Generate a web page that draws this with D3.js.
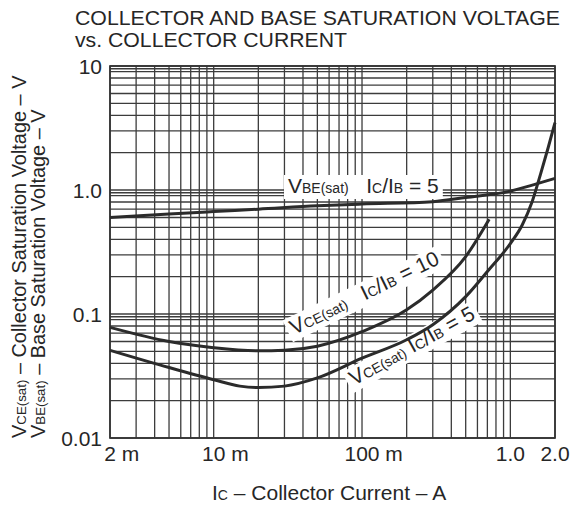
<!DOCTYPE html>
<html><head><meta charset="utf-8">
<script src="https://cdn.jsdelivr.net/npm/d3@7"></script>
<style>
html,body{margin:0;padding:0;background:#fff;}
text{font-family:"Liberation Sans",Arial,Helvetica,sans-serif;fill:#262626;white-space:pre;}
</style></head>
<body>
<svg id="c" width="587" height="508"></svg>
<script>
// ---- data ----
const xTickValues = [0.002, 0.01, 0.1, 1, 2];
const xTickNums   = ["2", "10", "100", "1.0", "2.0"];
const xTickUnits  = [" m", " m", " m", "", ""];
const yTickValues = [0.01, 0.1, 1, 10];
const yTickLabels = ["0.01", "0.1", "1.0", "10"];

const vbeCurrent = [0.002, 0.005, 0.01, 0.02, 0.05, 0.1, 0.3, 0.5, 1.0, 1.5, 2.0];
const vbeVoltage = [0.60, 0.64, 0.67, 0.70, 0.745, 0.77, 0.805, 0.87, 0.98, 1.12, 1.24];

const vce10Current = [0.002, 0.005, 0.01, 0.02, 0.03, 0.05, 0.1, 0.2, 0.3, 0.5, 0.72];
const vce10Voltage = [0.078, 0.060, 0.0535, 0.0505, 0.051, 0.055, 0.072, 0.108, 0.156, 0.29, 0.58];

const vce5Current = [0.002, 0.005, 0.01, 0.015, 0.02, 0.03, 0.05, 0.1, 0.2, 0.3, 0.5, 0.7, 1.0, 1.2, 1.4, 1.6, 1.8, 2.0];
const vce5Voltage = [0.051, 0.037, 0.0295, 0.0262, 0.0255, 0.0262, 0.0305, 0.044, 0.062, 0.082, 0.138, 0.22, 0.37, 0.52, 0.80, 1.35, 2.2, 3.5];

const gridMultipliers = [1, 2, 3, 4, 5, 6, 7, 8, 9];

// ---- drawing ----
const svg = d3.select("#c");
const x = d3.scaleLog().domain([0.002, 2]).range([110, 555]);
const y = d3.scaleLog().domain([0.01, 10]).range([438, 66]);
const ink = "#2b2b2b";

// title
const title = svg.append("g").attr("font-size", 20);
title.append("text").attr("x", 75).attr("y", 25).attr("textLength", 485).attr("lengthAdjust", "spacingAndGlyphs")
  .text("COLLECTOR AND BASE SATURATION VOLTAGE");
title.append("text").attr("x", 75).attr("y", 47).attr("textLength", 272).attr("lengthAdjust", "spacingAndGlyphs")
  .text("vs. COLLECTOR CURRENT");

// grid
const grid = svg.append("g").attr("stroke", "#3c3c3c").attr("stroke-width", 1.3);
const xs = [];
[0.001, 0.01, 0.1, 1].forEach(d => gridMultipliers.forEach(m => { const v = d * m; if (v >= 0.002 - 1e-9 && v <= 2 + 1e-9) xs.push(v); }));
const ys = [];
[0.01, 0.1, 1].forEach(d => gridMultipliers.forEach(m => ys.push(d * m)));
ys.push(10, 0.095, 0.95, 9.5);
grid.selectAll("line.v").data(xs).join("line")
  .attr("x1", d => x(d)).attr("x2", d => x(d)).attr("y1", y(10)).attr("y2", y(0.01));
grid.selectAll("line.h").data(ys).join("line")
  .attr("x1", x(0.002)).attr("x2", x(2)).attr("y1", d => y(d)).attr("y2", d => y(d));
svg.append("rect").attr("x", x(0.002)).attr("y", y(10)).attr("width", x(2) - x(0.002)).attr("height", y(0.01) - y(10))
  .attr("fill", "none").attr("stroke", "#333").attr("stroke-width", 1.7);

// ticks
const ax = svg.append("g").attr("font-size", 21);
xTickValues.forEach((v, i) => {
  const t = ax.append("text").attr("y", 461);
  const num = t.append("tspan").text(xTickNums[i]);
  t.append("tspan").text(xTickUnits[i]);
  const w = num.node().getComputedTextLength();
  t.attr("x", x(v) - w / 2);
});
ax.selectAll("text.yt").data(yTickValues).join("text")
  .attr("x", 102).attr("y", d => y(d) + 8).attr("text-anchor", "end").text((d, i) => yTickLabels[i]);

// helper for text with subscripts: parts = [[text, small?], ...]
function richText(sel, parts, big, small) {
  parts.forEach(p => sel.append("tspan").attr("font-size", p[1] ? small : big).text(p[0]));
  return sel;
}

// axis titles
richText(svg.append("text").attr("x", 212).attr("y", 500),
  [["I", 0], ["C", 1], [" – Collector Current – A", 0]], 21, 14);
richText(svg.append("text").attr("transform", "translate(26,438) rotate(-90)"),
  [["V", 0], ["CE(sat)", 1], [" – Collector Saturation Voltage – V", 0]], 19.9, 13.3);
richText(svg.append("text").attr("transform", "translate(45,438) rotate(-90)"),
  [["V", 0], ["BE(sat)", 1], [" – Base Saturation Voltage – V", 0]], 19.9, 13.3);

// labels with white backgrounds
const labels = [
  { x: 288, y: 193, rot: 0, parts: [["V", 0], ["BE(sat)", 1], ["   I", 0], ["C", 1], ["/I", 0], ["B", 1], [" = 5", 0]] },
  { x: 294, y: 335, rot: -26, parts: [["V", 0], ["CE(sat)", 1], ["   I", 0], ["C", 1], ["/I", 0], ["B", 1], [" = 10", 0]] },
  { x: 354, y: 386, rot: -29, parts: [["V", 0], ["CE(sat)", 1], [" I", 0], ["C", 1], ["/I", 0], ["B", 1], [" = 5", 0]] }
];
const labelLayer = svg.append("g");

// curves
const line = d3.line().x(d => x(d[0])).y(d => y(d[1])).curve(d3.curveMonotoneX);
const series = [
  d3.zip(vbeCurrent, vbeVoltage),
  d3.zip(vce10Current, vce10Voltage),
  d3.zip(vce5Current, vce5Voltage)
];
svg.append("g").selectAll("path").data(series).join("path")
  .attr("d", line).attr("fill", "none").attr("stroke", ink).attr("stroke-width", 3);

labels.forEach(L => {
  const g = labelLayer.append("g").attr("transform", `translate(${L.x},${L.y}) rotate(${L.rot})`);
  const r = g.append("rect").attr("fill", "#fff");
  const t = richText(g.append("text").attr("x", 0).attr("y", 0), L.parts, 21, 14);
  const b = t.node().getBBox();
  r.attr("x", b.x - 4).attr("y", b.y + 1).attr("width", b.width + 8).attr("height", b.height + 1);
});
</script>
</body></html>
